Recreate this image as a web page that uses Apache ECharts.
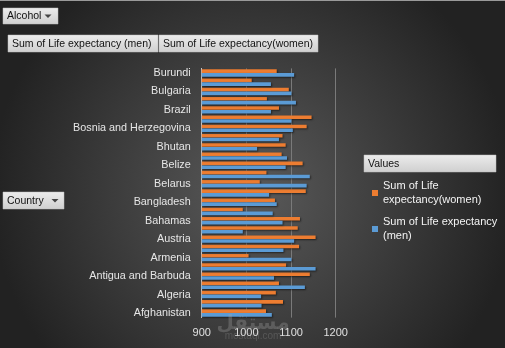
<!DOCTYPE html>
<html>
<head>
<meta charset="utf-8">
<script src="https://cdn.jsdelivr.net/npm/echarts@6/dist/echarts.min.js"></script>
<style>
html,body{margin:0;padding:0;background:#333;}
#c{width:505px;height:348px;}
</style>
</head>
<body>
<div id="c"></div>
<script>
// Categories (bottom to top)
var countries = ["Afghanistan","Albania","Algeria","Angola","Antigua and Barbuda","Argentina","Armenia","Australia","Austria","Azerbaijan","Bahamas","Bahrain","Bangladesh","Barbados","Belarus","Belgium","Belize","Benin","Bhutan","Bolivia","Bosnia and Herzegovina","Botswana","Brazil","Brunei","Bulgaria","Burkina Faso","Burundi"];
var menValues = [1057,1034,1033,1131,1062,1155,1101,1083,1107,992,1081,1059,1068,1051,1135,1142,1088,1091,1024,1073,1104,1101,1055,1111,1101,1055,1107];
var womenValues = [1044,1082,1066,1073,1142,1089,1005,1118,1155,1115,1120,992,1064,1133,1030,1045,1126,1079,1088,1081,1135,1146,1073,1046,1095,1012,1068];
var xTicks = [900,1000,1100,1200];
var menName = "Sum of Life expectancy (men)";
var womenName = "Sum of Life expectancy(women)";

var chart = echarts.init(document.getElementById('c'));
var FONT = "Liberation Sans";
function btn(x,y,w,h,label,arrowX){
  var els = [{
    type:'rect', shape:{x:x,y:y,width:w,height:h},
    style:{fill:{type:'linear',x:0,y:0,x2:0,y2:1,colorStops:[{offset:0,color:'#ececec'},{offset:1,color:'#cfcfcf'}]}, stroke:'#bdbdbd', lineWidth:0.5}
  },{
    type:'text', style:{x:x+4,y:y+h/2+0.5,text:label,fill:'#111',font:'10.5px '+FONT,verticalAlign:'middle'}
  }];
  if(arrowX){
    var ax=arrowX, ay=y+h/2-1.5;
    els.push({type:'polygon',shape:{points:[[ax-3.5,ay],[ax+3.5,ay],[ax,ay+3.5]]},style:{fill:'#444'}});
  }
  return els;
}
var graphics = [].concat(
  btn(3,8,55,16,'Alcohol',48),
  btn(8,35,150,17,'Sum of Life expectancy (men)',0),
  btn(159,35,159,17,'Sum of Life expectancy(women)',0),
  btn(3,192,61,17,'Country',55),
  btn(364,155,132,17,'Values',0),
  [{type:'text',z:100,style:{x:253,y:323,text:'مستقل',fill:'rgba(170,170,170,0.3)',font:'bold 20px "Noto Sans", "DejaVu Sans"',align:'center',verticalAlign:'middle'}},
   {type:'text',z:100,style:{x:253,y:336,text:'mostaql.com',fill:'rgba(170,170,170,0.25)',font:'10px '+FONT,align:'center',verticalAlign:'middle'}},
   {type:'line',shape:{x1:0,y1:0.5,x2:505,y2:0.5},style:{stroke:'#9a9a9a',lineWidth:1}}]
);

chart.setOption({
  animation:false,
  backgroundColor:{type:'radial',x:0.5,y:0.55,r:0.75,colorStops:[{offset:0,color:'#5a5a5a'},{offset:1,color:'#222222'}]},
  textStyle:{fontFamily:FONT},
  grid:{left:201.7,right:169.3,top:68.4,bottom:30.4,containLabel:false},
  legend:{
    orient:'vertical', left:367, top:174,
    data:[womenName, menName],
    icon:'rect', itemWidth:6, itemHeight:6, itemGap:8,
    textStyle:{color:'#f4f4f4',fontSize:11,fontFamily:FONT,lineHeight:14},
    formatter:function(n){ return n===womenName ? 'Sum of Life\nexpectancy(women)' : 'Sum of Life expectancy\n(men)'; },
    selectedMode:false
  },
  xAxis:{
    type:'value', min:xTicks[0], max:xTicks[xTicks.length-1], interval:100,
    axisLine:{show:false}, axisTick:{show:false},
    splitLine:{show:true,lineStyle:{color:'#7a7a7a',width:1}},
    axisLabel:{color:'#e0e0e0',fontSize:11,fontFamily:FONT,margin:10,formatter:function(v){return String(v);}}
  },
  yAxis:{
    type:'category', data:countries,
    axisLine:{show:true,lineStyle:{color:'#c8c8c8',width:1}},
    axisTick:{show:false},
    axisLabel:{interval:1,color:'#e6e6e6',fontSize:10.8,fontFamily:FONT,margin:11}
  },
  series:[
    {name:womenName,type:'bar',data:womenValues,barWidth:3.6,barGap:'5%',
     itemStyle:{color:'#ed7d31',shadowColor:'rgba(0,0,0,0.55)',shadowBlur:2,shadowOffsetX:1,shadowOffsetY:1}},
    {name:menName,type:'bar',data:menValues,barWidth:3.6,barGap:'5%',
     itemStyle:{color:'#5b9bd5',shadowColor:'rgba(0,0,0,0.55)',shadowBlur:2,shadowOffsetX:1,shadowOffsetY:1}}
  ],
  graphic:graphics
});
</script>
</body>
</html>
